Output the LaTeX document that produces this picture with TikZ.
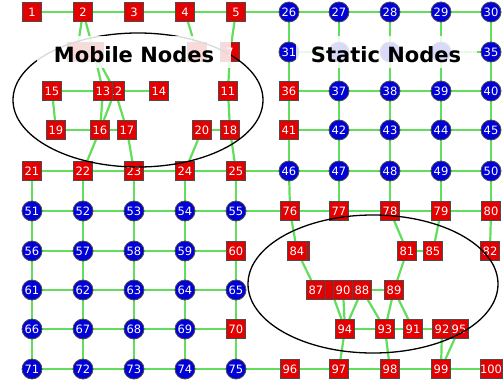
\documentclass[tikz,border=0pt]{standalone}
\usepackage{fontspec}
\setmainfont{DejaVu Sans}
\usetikzlibrary{backgrounds}
\definecolor{linkgreen}{RGB}{98,222,92}
\definecolor{nodered}{RGB}{226,0,0}
\definecolor{nodeblue}{RGB}{0,0,215}
\begin{document}
\begin{tikzpicture}[x=1pt,y=-1pt,
  wire/.style={draw=linkgreen,line width=2.2pt},
  mob/.style={rectangle,draw=black!70,line width=0.8pt,fill=nodered,
    minimum width=19.5pt,minimum height=19.5pt,inner sep=0pt,text=white,
    font=\fontsize{11.5}{13}\selectfont},
  stat/.style={circle,draw=black!70,line width=0.8pt,fill=nodeblue,
    minimum size=20pt,inner sep=0pt,text=white,
    font=\fontsize{11.5}{13}\selectfont},
  ring/.style={draw=black,line width=1.3pt},
  veil/.style={fill=white,fill opacity=0.85},
  tagtext/.style={font=\bfseries\fontsize{21}{21}\selectfont,inner sep=0pt}]
\useasboundingbox (0,0) rectangle (504,383);

% ---- static nodes (blue circles) ----
\foreach \y/\first in {12/26,171/46}
  \foreach \c/\x in {0/289,1/339,2/390,3/441,4/491}
    {\pgfmathtruncatemacro\k{\first+\c}\node[stat] (n\k) at (\x,\y) {\k};}
\node[stat] (n31) at (289,52) {31};
\node[stat] (n32) at (339,52) {};
\node[stat] (n33) at (390,52) {};
\node[stat] (n34) at (441,52) {};
\node[stat] (n35) at (491,52) {35};
\foreach \y/\first in {91/36,130/41}
  \foreach \c/\x in {1/339,2/390,3/441,4/491}
    {\pgfmathtruncatemacro\k{\first+\c}\node[stat] (n\k) at (\x,\y) {\k};}
\foreach \y/\first in {211/51,290/61,369/71}
  \foreach \c/\x in {0/32,1/83,2/134,3/185,4/236}
    {\pgfmathtruncatemacro\k{\first+\c}\node[stat] (n\k) at (\x,\y) {\k};}
\foreach \y/\first in {251/56,329/66}
  \foreach \c/\x in {0/32,1/83,2/134,3/185}
    {\pgfmathtruncatemacro\k{\first+\c}\node[stat] (n\k) at (\x,\y) {\k};}

% ---- mobile nodes (red squares); hidden ones first ----
\node[mob] (n83) at (300,251) {};
\node[mob] (n86) at (331,290) {};
\foreach \k/\x/\y in {1/32/12,2/83/12,3/134/12,4/185/12,5/236/12,
    15/52/91,12/115/91,13/103/91,14/159/91,11/228/91,
    19/56/130,16/100/130,17/127/130,20/202/130,18/230/130,
    21/32/171,22/83/171,23/134/171,24/185/171,25/236/171,
    36/289/91,41/289/130,60/236/251,70/236/329,
    76/290/211,77/339/211,78/390/211,79/441/211,80/491/211,
    84/297/251,81/407/251,85/433/251,82/490/251,
    87/316/290,90/343/290,88/362/290,89/394/290,
    94/345/329,93/385/329,91/413/329,95/459/329,92/442/329,
    96/290/369,97/339/369,98/390/369,99/441/369,100/491/369}
  \node[mob] (n\k) at (\x,\y) {\k};
\node[mob] (n6) at (77,52) {};
\node[mob] (n8) at (94,52) {};
\node[mob] (n9) at (197,52) {};
\node[mob] (n7) at (230,52) {7};

% ---- links ----
\begin{scope}[on background layer]
  \foreach \base in {26,51}{
    \foreach \r in {0,...,4}{\foreach \c in {0,...,3}{
      \pgfmathtruncatemacro\ga{\base+5*\r+\c}
      \pgfmathtruncatemacro\gb{\ga+1}
      \draw[wire] (n\ga.center) -- (n\gb.center);}}
    \foreach \r in {0,...,3}{\foreach \c in {0,...,4}{
      \pgfmathtruncatemacro\ga{\base+5*\r+\c}
      \pgfmathtruncatemacro\gb{\ga+5}
      \draw[wire] (n\ga.center) -- (n\gb.center);}}
  }
  \foreach \a/\b in {1/2,2/3,3/4,4/5,5/26,2/6,2/8,8/13,8/12,4/9,5/7,7/11,
      15/13,12/14,15/19,13/16,12/16,12/17,19/16,16/17,16/22,17/23,
      11/18,20/18,20/24,18/25,21/22,22/23,23/24,24/25,25/46,
      21/51,22/52,23/53,24/54,25/55,
      46/76,47/77,48/78,49/79,50/80,55/76,75/96,
      76/77,77/78,78/79,79/80,76/84,84/87,78/81,79/85,81/85,80/82,
      81/89,88/89,86/94,90/94,88/94,88/93,89/93,89/91,94/93,93/91,
      91/92,94/97,93/98,92/99,95/99,96/97,97/98,98/99,99/100}
    \draw[wire] (n\a.center) -- (n\b.center);
\end{scope}

% ---- regions ----
\draw[ring] (138,100) ellipse [x radius=125pt, y radius=67pt];
\draw[ring] (373,284) ellipse [x radius=125pt, y radius=69pt];

% ---- region titles ----
\fill[veil] (37,36) rectangle (231,68);
\node[tagtext] (mobiletag) at (134,55) {Mobile Nodes};
\fill[veil] (296,36) rectangle (477,68);
\node[tagtext] (statictag) at (386,55) {Static Nodes};
\end{tikzpicture}
\end{document}
